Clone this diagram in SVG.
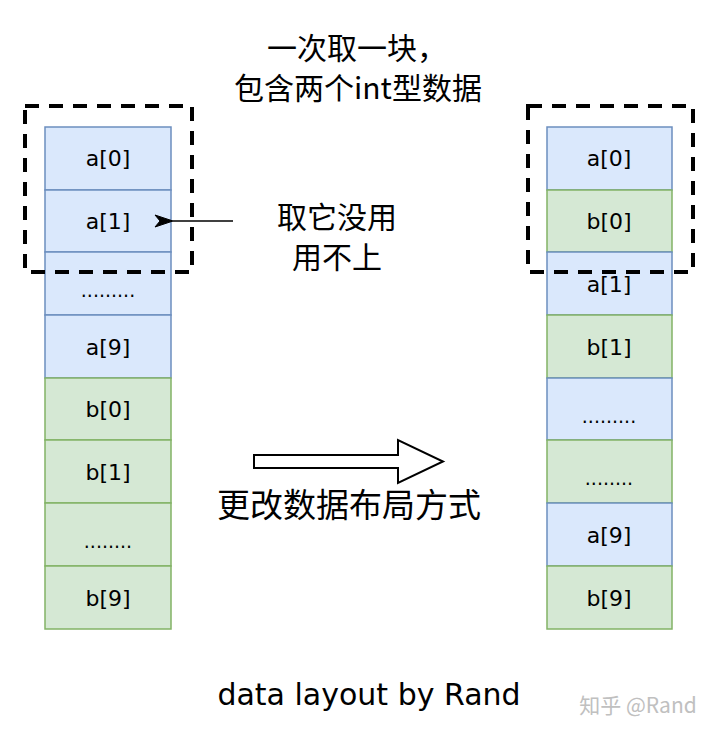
<svg xmlns="http://www.w3.org/2000/svg" width="720" height="735" viewBox="0 0 720 735">
<defs>
<style>
.a{fill:#dae8fc;stroke:#6c8ebf;stroke-width:1.5}
.b{fill:#d5e8d4;stroke:#82b366;stroke-width:1.5}
.t{font-family:"DejaVu Sans","Liberation Sans",sans-serif;font-size:22px;fill:#000;text-anchor:middle}
.d{font-family:"DejaVu Sans","Liberation Sans",sans-serif;font-size:19px;fill:#000;text-anchor:middle}
.cn{font-family:"Noto Sans CJK SC","Noto Sans",sans-serif;fill:#000;text-anchor:middle}
.dash{fill:none;stroke:#000;stroke-width:4;stroke-dasharray:14,10}
</style>
<marker id="arr" markerWidth="20" markerHeight="14" refX="1" refY="7" orient="auto" markerUnits="userSpaceOnUse">
<path d="M19,1 L1,7 L19,13 L14,7 Z" fill="#000" stroke="#000" stroke-width="1"/>
</marker>
</defs>
<rect width="720" height="735" fill="#fff"/>
<g id="left-col">
<g id="l0"><rect class="a" x="45" y="127" width="126" height="63"/><text class="t" x="108" y="166">a[0]</text></g>
<g id="l1"><rect class="a" x="45" y="190" width="126" height="62"/><text class="t" x="108" y="229">a[1]</text></g>
<g id="l2"><rect class="a" x="45" y="252" width="126" height="63"/><text class="d" x="108" y="297">.........</text></g>
<g id="l3"><rect class="a" x="45" y="315" width="126" height="63"/><text class="t" x="108" y="355">a[9]</text></g>
<g id="l4"><rect class="b" x="45" y="378" width="126" height="62"/><text class="t" x="108" y="417">b[0]</text></g>
<g id="l5"><rect class="b" x="45" y="440" width="126" height="63"/><text class="t" x="108" y="480">b[1]</text></g>
<g id="l6"><rect class="b" x="45" y="503" width="126" height="63"/><text class="d" x="108" y="548">........</text></g>
<g id="l7"><rect class="b" x="45" y="566" width="126" height="63"/><text class="t" x="108" y="606">b[9]</text></g>
</g>
<g id="right-col">
<g id="r0"><rect class="a" x="547" y="127" width="125" height="63"/><text class="t" x="609" y="166">a[0]</text></g>
<g id="r1"><rect class="b" x="547" y="190" width="125" height="62"/><text class="t" x="609" y="229">b[0]</text></g>
<g id="r2"><rect class="a" x="547" y="252" width="125" height="63"/><text class="t" x="609" y="292">a[1]</text></g>
<g id="r3"><rect class="b" x="547" y="315" width="125" height="63"/><text class="t" x="609" y="355">b[1]</text></g>
<g id="r4"><rect class="a" x="547" y="378" width="125" height="62"/><text class="d" x="609" y="423">.........</text></g>
<g id="r5"><rect class="b" x="547" y="440" width="125" height="63"/><text class="d" x="609" y="485">........</text></g>
<g id="r6"><rect class="a" x="547" y="503" width="125" height="63"/><text class="t" x="609" y="543">a[9]</text></g>
<g id="r7"><rect class="b" x="547" y="566" width="125" height="63"/><text class="t" x="609" y="606">b[9]</text></g>
</g>
<g id="dashed-boxes">
<rect id="box-left" class="dash" x="25" y="106" width="167" height="166"/>
<rect id="box-right" class="dash" x="528" y="106" width="165" height="166"/>
</g>
<g id="connectors">
<line x1="233" y1="221" x2="173" y2="221" stroke="#000" stroke-width="1.5" marker-end="url(#arr)"/>
<path id="block-arrow" d="M254,455 L398,455 L398,440 L443,461.5 L398,483 L398,468 L254,468 Z" fill="#fff" stroke="#000" stroke-width="2"/>
</g>
<g id="labels">
<text class="cn" font-size="30"><tspan x="357" y="59">一次取一块，</tspan><tspan x="358" y="99">包含两个int型数据</tspan></text>
<text class="cn" font-size="30"><tspan x="337" y="228">取它没用</tspan><tspan x="337" y="268">用不上</tspan></text>
<text class="cn" x="349" y="517" font-size="33">更改数据布局方式</text>
<text x="369" y="705" font-family="DejaVu Sans,sans-serif" font-size="30" text-anchor="middle" fill="#000">data layout by Rand</text>
<text x="638" y="713" font-family="Noto Sans CJK SC,sans-serif" font-size="21" text-anchor="middle" fill="#c0c0c0">知乎 @Rand</text>
</g>
</svg>
